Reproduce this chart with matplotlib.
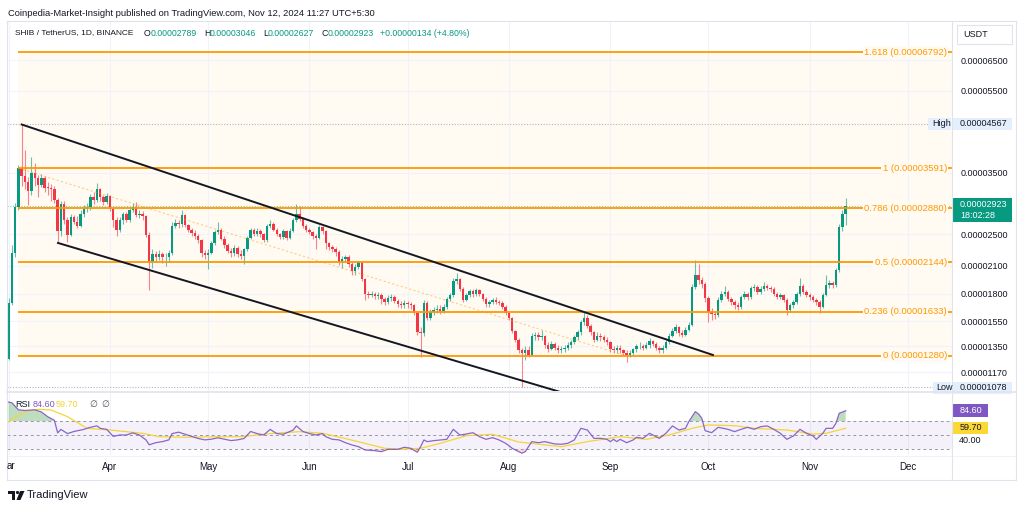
import numpy as np
import matplotlib.pyplot as plt
import matplotlib.dates as mdates
import pandas as pd
from matplotlib.patches import Rectangle, Polygon, Circle
from matplotlib.lines import Line2D
from matplotlib.transforms import Affine2D
from matplotlib.ticker import NullLocator

plt.rcParams['font.family'] = ['Liberation Sans', 'DejaVu Sans']

W, H = 1024, 509
S = 1e-8  # precios en unidades de 1e-8 USDT

# ----------------- DATOS -----------------
fecha_inicio = '2024-03-01'
apertura_inicial = 1260

cierres = [
    1710, 2250, 2900, 3590, 3450, 3330, 3170, 3500, 3400, 3280,
    3400, 3230, 3220, 3200, 3020, 2540, 2950, 2700, 2490, 2740,
    2680, 2620, 2790, 2870, 2900, 3060, 3010, 3200, 3060, 2990,
    3080, 2870, 2700, 2560, 2700, 2790, 2700, 2860, 2900, 2770,
    2800, 2760, 2490, 2140, 2240, 2200, 2240, 2200, 2210, 2250,
    2620, 2660, 2640, 2780, 2630, 2560, 2520, 2470, 2420, 2250,
    2230, 2260, 2380, 2530, 2560, 2440, 2350, 2280, 2250, 2320,
    2240, 2220, 2300, 2450, 2560, 2500, 2550, 2500, 2420, 2620,
    2650, 2560, 2500, 2460, 2540, 2450, 2550, 2700, 2790, 2720,
    2620, 2560, 2530, 2470, 2450, 2600, 2540, 2380, 2330, 2300,
    2270, 2140, 2180, 2200, 2120, 2040, 2090, 2140, 1950, 1800,
    1790, 1800, 1780, 1790, 1750, 1720, 1760, 1770, 1730, 1700,
    1690, 1710, 1700, 1690, 1620, 1460, 1450, 1710, 1580, 1630,
    1650, 1660, 1640, 1680, 1750, 1790, 1930, 1950, 1850, 1740,
    1790, 1830, 1800, 1840, 1800, 1750, 1700, 1720, 1740, 1720,
    1710, 1680, 1620, 1580, 1470, 1400, 1320, 1300, 1320, 1290,
    1430, 1440, 1420, 1430, 1360, 1330, 1370, 1340, 1320, 1330,
    1340, 1360, 1380, 1420, 1460, 1540, 1580, 1510, 1460, 1400,
    1430, 1420, 1400, 1380, 1330, 1320, 1340, 1320, 1300, 1285,
    1300, 1330, 1350, 1355, 1340, 1360, 1390, 1370, 1340, 1320,
    1340, 1380, 1430, 1470, 1500, 1450, 1440, 1480, 1520, 1870,
    2000, 1940, 1900, 1760, 1630, 1610, 1600, 1740, 1800, 1820,
    1750, 1720, 1690, 1680, 1770, 1800, 1770, 1860, 1870, 1820,
    1850, 1880, 1860, 1850, 1800, 1770, 1790, 1740, 1650, 1690,
    1720, 1800, 1880, 1820, 1790, 1770, 1740, 1720, 1680, 1790,
    1890, 1910, 1890, 2050, 2600, 2789, 2923]

maximos = [
    1760, 2360, 2960, 3660, 4567, 3970, 3420, 3810, 3700, 3460,
    3480, 3450, 3330, 3300, 3260, 3050, 3000, 3000, 2750, 2800,
    2780, 2760, 2850, 2930, 2960, 3110, 3150, 3310, 3230, 3100,
    3130, 3100, 2900, 2740, 2740, 2830, 2820, 2900, 2960, 2990,
    2860, 2840, 2780, 2530, 2300, 2280, 2290, 2270, 2250, 2290,
    2680, 2720, 2700, 2850, 2800, 2650, 2590, 2560, 2500, 2440,
    2290, 2300, 2410, 2560, 2680, 2590, 2470, 2380, 2320, 2350,
    2340, 2290, 2320, 2480, 2590, 2590, 2580, 2570, 2520, 2650,
    2700, 2670, 2590, 2520, 2570, 2560, 2580, 2730, 2950, 2920,
    2740, 2640, 2590, 2550, 2500, 2630, 2620, 2560, 2400, 2360,
    2330, 2290, 2220, 2230, 2230, 2140, 2120, 2160, 2160, 1970,
    1830, 1830, 1820, 1820, 1810, 1770, 1790, 1800, 1790, 1750,
    1730, 1740, 1730, 1720, 1700, 1630, 1500, 1740, 1730, 1660,
    1680, 1690, 1690, 1700, 1770, 1810, 1960, 2020, 1960, 1870,
    1810, 1850, 1850, 1860, 1850, 1810, 1770, 1740, 1760, 1770,
    1740, 1730, 1690, 1630, 1590, 1480, 1410, 1340, 1350, 1350,
    1450, 1460, 1460, 1480, 1440, 1380, 1390, 1380, 1360, 1350,
    1360, 1380, 1400, 1440, 1480, 1560, 1630, 1600, 1530, 1470,
    1460, 1450, 1440, 1420, 1390, 1350, 1360, 1360, 1330, 1320,
    1320, 1340, 1370, 1380, 1370, 1380, 1410, 1400, 1380, 1350,
    1360, 1400, 1450, 1490, 1530, 1510, 1480, 1500, 1540, 1900,
    2170, 2120, 1980, 1920, 1780, 1670, 1640, 1770, 1830, 1880,
    1840, 1770, 1740, 1720, 1790, 1830, 1820, 1880, 1900, 1890,
    1880, 1920, 1900, 1880, 1870, 1820, 1810, 1800, 1760, 1710,
    1740, 1820, 1970, 1900, 1840, 1810, 1790, 1760, 1740, 1810,
    2000, 1940, 1930, 2080, 2640, 2860, 3046]

minimos = [
    1250, 1690, 2200, 2850, 3250, 3200, 2930, 3100, 3250, 3070,
    3240, 3150, 3100, 3000, 2960, 2400, 2480, 2650, 2400, 2470,
    2640, 2580, 2600, 2740, 2820, 2860, 2950, 2980, 3000, 2940,
    2950, 2840, 2600, 2470, 2530, 2650, 2670, 2680, 2830, 2740,
    2730, 2700, 2460, 1840, 2080, 2150, 2170, 2130, 2100, 2140,
    2230, 2580, 2590, 2600, 2600, 2530, 2480, 2440, 2380, 2210,
    2180, 2070, 2240, 2350, 2500, 2420, 2320, 2250, 2200, 2220,
    2200, 2180, 2120, 2280, 2430, 2470, 2470, 2460, 2390, 2400,
    2590, 2540, 2470, 2430, 2440, 2420, 2430, 2530, 2680, 2690,
    2590, 2530, 2500, 2440, 2300, 2430, 2500, 2300, 2290, 2270,
    2220, 2110, 2080, 2140, 2090, 2000, 2000, 2060, 1930, 1740,
    1760, 1770, 1750, 1750, 1700, 1690, 1700, 1730, 1710, 1680,
    1670, 1670, 1670, 1660, 1600, 1440, 1270, 1430, 1560, 1560,
    1600, 1620, 1610, 1620, 1660, 1730, 1770, 1900, 1830, 1720,
    1730, 1770, 1770, 1780, 1780, 1730, 1680, 1680, 1700, 1700,
    1690, 1660, 1600, 1560, 1450, 1380, 1300, 1078, 1250, 1270,
    1280, 1400, 1400, 1400, 1340, 1310, 1320, 1320, 1300, 1300,
    1310, 1320, 1340, 1370, 1400, 1440, 1520, 1490, 1440, 1380,
    1390, 1390, 1380, 1360, 1310, 1300, 1300, 1300, 1280, 1240,
    1270, 1290, 1310, 1330, 1320, 1330, 1340, 1350, 1320, 1300,
    1300, 1330, 1370, 1420, 1450, 1430, 1420, 1430, 1470, 1510,
    1850, 1900, 1860, 1720, 1540, 1560, 1570, 1590, 1720, 1780,
    1730, 1690, 1660, 1650, 1660, 1750, 1740, 1750, 1830, 1800,
    1800, 1830, 1840, 1820, 1780, 1750, 1750, 1720, 1600, 1630,
    1670, 1700, 1780, 1800, 1770, 1740, 1720, 1690, 1620, 1670,
    1780, 1860, 1860, 1870, 2030, 2540, 2627]

rsi_dias = [
    0, 1, 3, 5, 8, 10, 12, 14, 15, 16,
    18, 20, 23, 25, 27, 28, 30, 32, 34, 36,
    38, 40, 42, 43, 45, 47, 49, 50, 52, 54,
    56, 58, 60, 62, 64, 66, 68, 70, 72, 74,
    76, 78, 80, 82, 84, 87, 88, 90, 92, 94,
    96, 97, 99, 101, 103, 105, 107, 109, 112, 114,
    116, 119, 121, 123, 125, 126, 127, 128, 130, 134,
    136, 138, 140, 142, 144, 146, 148, 150, 152, 154,
    156, 157, 158, 160, 162, 164, 167, 169, 171, 173,
    175, 177, 179, 181, 183, 184, 185, 186, 187, 189,
    191, 192, 194, 196, 198, 199, 201, 203, 205, 207,
    208, 210, 211, 212, 213, 215, 217, 220, 222, 224,
    226, 228, 230, 232, 234, 236, 238, 240, 242, 244,
    246, 247, 249, 250, 252, 253, 254, 256]
rsi_valores = [
    97, 96, 86, 85, 86, 83, 76, 71, 53, 58,
    52, 55, 58, 61, 63, 59.5, 58, 48, 50, 50,
    53, 50, 43, 36, 39, 40.5, 43, 52, 54, 51,
    48, 45, 43, 44, 46, 44, 42, 43, 45, 55,
    52, 50, 58, 52, 51, 57, 63, 55, 52, 50,
    52, 47.6, 43.8, 43, 39, 35.7, 33.3, 28.6, 27.6, 26.2,
    29.5, 29.5, 32.4, 31, 25.3, 33.3, 42.9, 40.5, 41.9, 43.8,
    58.1, 50, 51.4, 53.3, 47.6, 43.8, 46.2, 42.9, 38.1, 31,
    26.2, 24, 26.2, 40.5, 39, 40.5, 37.2, 36.7, 38.1, 42.9,
    59.5, 57.1, 45.2, 45.2, 43.8, 40.5, 43.8, 40.5, 43.8, 39,
    42.9, 46.7, 45.2, 52.4, 47.6, 45.2, 52.4, 62.9, 57.1, 59.5,
    69, 83.3, 80, 73.8, 56.2, 53.3, 61, 58.1, 54.8, 58.1,
    61, 58.1, 61.9, 62.9, 58.1, 52.4, 43.8, 48.6, 58.1, 52.4,
    48.6, 43.8, 52.4, 59.5, 59.5, 66.7, 81, 84.6]

ma_dias = [0, 5, 9, 13, 18, 24, 31, 41, 46, 54,
           63, 71, 81, 89, 96, 104, 115, 120, 126, 132,
           140, 148, 156, 169, 177, 187, 195, 202, 209, 214,
           222, 228, 238, 246, 250, 256]
ma_valores = [69, 83.3, 86.7, 85.7, 76.2, 59.5, 57.1, 52.4, 47.6, 46.7,
              47.6, 47.6, 52.4, 54.8, 52.4, 43.8, 31, 29.5, 31, 38.1,
              49, 51, 40, 33.3, 40.5, 47.6, 43.8, 50, 59.5, 64.3,
              63.3, 59.5, 57.1, 51.4, 52.4, 59.7]

fib_nombres = ['1.618', '1', '0.786', '0.5', '0.236', '0']
fib_precios = [6792, 3591, 2880, 2144, 1633, 1280]

precio_ticks = [6500, 5500, 3500, 2500, 2100, 1800, 1550, 1350, 1170]
precio_max = 4567
precio_min = 1078
precio_actual = 2923
meses = ['ar', 'Apr', 'May', 'Jun', 'Jul', 'Aug', 'Sep', 'Oct', 'Nov', 'Dec']

# ----------------- COLORES -----------------
VERDE = '#089981'
ROJO = '#f23645'
NARANJA = '#ff9800'
FONDO_FIB = '#fffaf2'
GRILLA = '#f0f3fa'
TEXTO = '#131722'
BORDE = '#e0e3eb'
VIOLETA = '#7e57c2'
AMARILLO = '#f7d436'

dias = pd.date_range(fecha_inicio, periods=len(cierres))
x = mdates.date2num(dias)
x0 = x[0]
o = np.array([apertura_inicial] + cierres[:-1]) * S
c = np.array(cierres) * S
h = np.array(maximos) * S
l = np.array(minimos) * S
meses_x = mdates.date2num(pd.date_range('2024-03-01', '2024-12-01', freq='MS'))

fig = plt.figure(figsize=(W / 100, H / 100), dpi=100)
fig.patch.set_facecolor('white')
pix = Affine2D().scale(1 / W, -1 / H).translate(0, 1) + fig.transFigure


def rect(xa, ya, xb, yb):
    return [xa / W, 1 - yb / H, (xb - xa) / W, (yb - ya) / H]


ax = fig.add_axes(rect(7, 22, 952, 391))
ax_rsi = fig.add_axes(rect(7, 393, 952, 455))
xlim = (x0 - 0.49, x0 + 288.5)

# ----------------- PANEL DE PRECIO -----------------
ax.set_yscale('log')
ax.set_xlim(*xlim)
ax.set_ylim(1056 * S, 8021 * S)

ax.fill_between([x0 + 3, x0 + 400], 1280 * S, 6792 * S, color=FONDO_FIB, lw=0, zorder=0)
for m in meses_x:
    ax.axvline(m, color=GRILLA, lw=0.8, zorder=0.5)
for p in precio_ticks:
    ax.axhline(p * S, color=GRILLA, lw=0.8, zorder=0.5)

sube = c >= o
colores = np.where(sube, VERDE, ROJO)
ax.vlines(x, l, h, colors=colores, lw=0.8, alpha=0.6, zorder=3)
ax.bar(x, np.maximum(np.abs(c - o), c * 0.004), bottom=np.minimum(o, c), width=0.75,
       color=colores, lw=0, zorder=4)

# lineas punteadas de maximo, minimo y precio actual
ax.axhline(precio_max * S, color='#b2b5be', lw=0.8, ls=(0, (1, 1.5)), zorder=2)
ax.axhline(precio_min * S, color='#b2b5be', lw=0.8, ls=(0, (1, 1.5)), zorder=2)
ax.axhline(precio_actual * S, color=VERDE, lw=0.8, alpha=0.5, ls=(0, (1, 1.5)), zorder=2)

# retroceso de Fibonacci
for nombre, p in zip(fib_nombres, fib_precios):
    ax.hlines(p * S, x0 + 3, xlim[1], color=NARANJA, lw=1.3, zorder=5)
    ax.text(0.9947, p * S, f'{nombre} ({p * S:.8f})', transform=ax.get_yaxis_transform(),
            ha='right', va='center', fontsize=6.8, color=NARANJA, zorder=6,
            bbox=dict(boxstyle='square,pad=0.15', fc=FONDO_FIB, ec='none'))
ax.plot([x0 + 3, x0 + 189], [3591 * S, 1280 * S], color=NARANJA, lw=0.8, alpha=0.45,
        ls=(0, (2, 2)), zorder=5)

# canal bajista
ax.plot([x0 + 4, x0 + 215.4], [4567 * S, 1287 * S], color=TEXTO, lw=1.4, zorder=6)
ax.plot([x0 + 15.1, x0 + 170.2], [2382 * S, 1042 * S], color=TEXTO, lw=1.4, zorder=6)

ax.yaxis.tick_right()
ax.set_yticks([p * S for p in precio_ticks])
ax.set_yticklabels([f'{p * S:.8f}' for p in precio_ticks])
ax.yaxis.set_minor_locator(NullLocator())
ax.tick_params(axis='y', length=0, pad=6, labelsize=6.5, labelcolor=TEXTO)
ax.set_xticks([])
for sp in ax.spines.values():
    sp.set_visible(False)

# ----------------- PANEL RSI -----------------
ax_rsi.set_xlim(*xlim)
ax_rsi.set_ylim(21.4, 110)
for m in meses_x:
    ax_rsi.axvline(m, color=GRILLA, lw=0.8, zorder=0.5)
ax_rsi.axhspan(30, 70, color=VIOLETA, alpha=0.08, lw=0)
for v in (70, 50, 30):
    ax_rsi.axhline(v, color='#9598a1', lw=0.7, ls=(0, (3, 3)))
rx = x0 + np.array(rsi_dias)
rv = np.array(rsi_valores)
ax_rsi.fill_between(rx, 70, rv, where=rv > 70, interpolate=True, color='#43a047', alpha=0.35, lw=0)
ax_rsi.fill_between(rx, 30, rv, where=rv < 30, interpolate=True, color='#ef5350', alpha=0.2, lw=0)
ax_rsi.plot(rx, rv, color=VIOLETA, lw=0.9, alpha=0.9, zorder=4)
ax_rsi.plot(x0 + np.array(ma_dias), ma_valores, color=AMARILLO, lw=0.9, zorder=3)
ax_rsi.set_yticks([])
ax_rsi.set_xticks(meses_x[1:])
ax_rsi.set_xticklabels(meses[1:])
ax_rsi.tick_params(axis='x', length=0, pad=5, labelsize=7, labelcolor=TEXTO)
for sp in ax_rsi.spines.values():
    sp.set_visible(False)


# ----------------- MARCO, ETIQUETAS Y TEXTOS -----------------
def linea(xa, ya, xb, yb, color=BORDE, lw=0.8):
    fig.add_artist(Line2D([xa, xb], [ya, yb], transform=pix, color=color, lw=lw))


def caja(xa, ya, xb, yb, color, **kw):
    fig.add_artist(Rectangle((xa, ya), xb - xa, yb - ya, transform=pix, fc=color, ec='none', **kw))


def texto(xp, yp, s, **kw):
    kw.setdefault('fontsize', 6.5)
    kw.setdefault('color', TEXTO)
    kw.setdefault('va', 'center')
    fig.text(xp, yp, s, transform=pix, **kw)


linea(7, 21.5, 1016, 21.5)
linea(7, 392, 1016, 392, lw=1.2)
linea(7, 456, 1016, 456, color='#f0f3fa')
linea(7, 480, 1016, 480)
linea(7, 21.5, 7, 480)
linea(952, 21.5, 952, 480)
linea(1016, 21.5, 1016, 480)

texto(8, 13, 'Coinpedia-Market-Insight published on TradingView.com, Nov 12, 2024 11:27 UTC+5:30',
      fontsize=6.75)
texto(15, 33, 'SHIB / TetherUS, 1D, BINANCE', fontsize=6.05)
for xl, letra, xv, valor in [(144, 'O', 151, '0.00002789'), (204, 'H', 210, '0.00003046'),
                             (263, 'L', 268, '0.00002627'), (322, 'C', 328, '0.00002923')]:
    texto(xl, 33, letra, fontsize=6.3)
    texto(xv, 33, valor, color=VERDE, fontsize=6.3)
texto(380, 33, '+0.00000134 (+4.80%)', color=VERDE, fontsize=6.3)

# caja USDT
fig.add_artist(Rectangle((957, 25), 55, 19, transform=pix, fc='white', ec=BORDE, lw=0.8))
texto(963, 34.5, 'USDT')

# etiquetas High / Low
caja(928, 118, 951, 130, '#e3effd')
caja(953, 118, 1012, 130, '#e3effd')
texto(932, 124, 'High')
texto(960, 124, '0.00004567')
caja(933, 382, 951, 394, '#e3effd')
caja(953, 382, 1012, 394, '#e3effd')
texto(936, 388, 'Low')
texto(960, 388, '0.00001078')

# precio actual
caja(953, 198, 1012, 222, VERDE)
texto(960, 204.5, '0.00002923', color='white')
texto(960, 215, '18:02:28', color='white')

# leyenda del RSI
texto(15, 405, 'RSI')
texto(33, 405, '84.60', color=VIOLETA)
texto(56, 405, '59.70', color=AMARILLO)
texto(89, 405, '\u2205', color='#50535e', family=['DejaVu Sans'])
texto(101, 405, '\u2205', color='#50535e', family=['DejaVu Sans'])
caja(953, 404, 988, 417, VIOLETA)
texto(970.5, 410.5, '84.60', color='white', ha='center')
caja(953, 422, 988, 434, '#fdd835')
texto(970.5, 428, '59.70', ha='center')
texto(970.5, 441, '40.00', ha='center')

texto(7, 466.5, meses[0], fontsize=7)

# logo de TradingView
caja(8, 491, 15, 494, TEXTO)
caja(11.5, 491, 15, 500, TEXTO)
fig.add_artist(Circle((17.5, 492.5), 1.6, transform=pix, fc=TEXTO, ec='none'))
fig.add_artist(Polygon([(20, 491), (24.5, 491), (20.5, 500), (16.5, 500)], closed=True,
                       transform=pix, fc=TEXTO, ec='none'))
texto(27, 495.5, 'TradingView', fontsize=8)

fig.savefig('out.png', dpi=100)
